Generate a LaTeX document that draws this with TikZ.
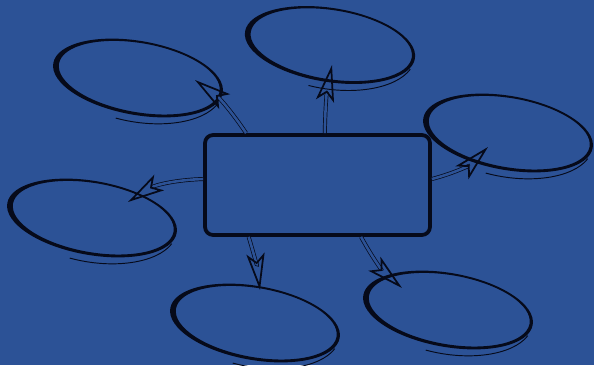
\documentclass[tikz,border=0pt]{standalone}
\usetikzlibrary{arrows.meta,shapes.geometric}
\definecolor{slide}{RGB}{44,82,150}
\definecolor{ink}{RGB}{6,10,26}

\begin{document}
\begin{tikzpicture}[
  x=0.03cm, y=-0.03cm,
  hubbox/.style={draw=ink, line width=3.2pt, rounded corners=7pt, minimum width=6.75cm, minimum height=3.0cm},
  bubble/.style={ellipse, minimum width=5.16cm, minimum height=2.22cm, inner sep=0pt},
  brush/.style={fill=ink, even odd rule},
  tail/.style={draw=ink, line width=0.8pt},
  arr/.style={draw=ink, line width=0.6pt, double=slide, double distance=2.2pt,
    -{Stealth[open, length=11mm, width=5.5mm, inset=2.5mm, line width=1.5pt]}}
]
\fill[slide] (0,0) rectangle (594,365);
\useasboundingbox (0,0) rectangle (594,365);

% centre box
\node[hubbox] (hub) at (317.5,185) {};

% bubbles
\foreach \n/\x/\y/\a in {tl/138/78/-10, tc/330/45/-9, rt/508/133/-10, lf/92/218/-10, bc/255/323/-10, br/448/310/-10} {
  \node[bubble, rotate=\a] (\n) at (\x,\y) {};
  \begin{scope}[shift={(\x,\y)}, rotate=\a]
    \fill[brush] (0,0) ellipse (86 and 37) (1.2,-0.5) ellipse (81.5 and 34.5);
    \draw[tail] (100:86 and 44) arc[start angle=100, end angle=15, x radius=86, y radius=44];
  \end{scope}
}

% arrows
\draw[arr] (hub.144) to[bend right=10] ([shift={(57,2)}]tl.center);
\draw[arr] (hub.82) to[bend left=5] ([shift={(2,20)}]tc.center);
\draw[arr] (hub.3) to[bend right=15] ([shift={(-20,14)}]rt.center);
\draw[arr] (hub.177) to[bend right=15] ([shift={(36,-16)}]lf.center);
\draw[arr] (hub.217) to[bend left=5] ([shift={(5,-33)}]bc.center);
\draw[arr] (hub.310) to[bend right=10] ([shift={(-46,-22)}]br.center);
\end{tikzpicture}
\end{document}
